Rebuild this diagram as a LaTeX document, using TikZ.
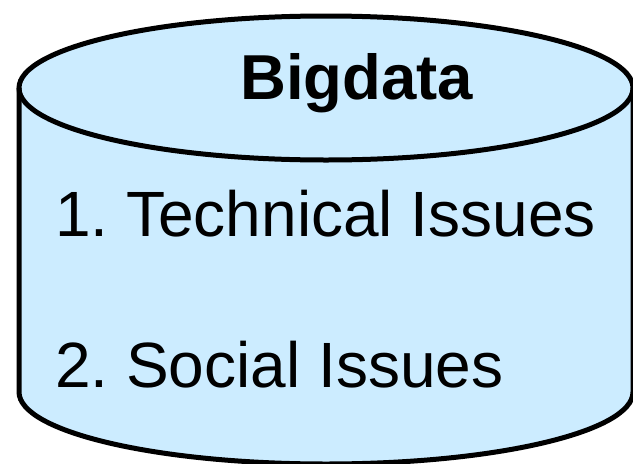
\documentclass[tikz,border=0pt]{standalone}
\usepackage{fontspec}
\setmainfont{Liberation Sans}
\definecolor{cylfill}{HTML}{CCECFF}
\begin{document}
\frenchspacing
\begin{tikzpicture}[x=1pt,y=-1pt,
  cylline/.style={draw=black,line width=5pt},
  bigtext/.style={inner sep=0pt,anchor=base west,font=\fontsize{64}{70}\selectfont}]
\useasboundingbox (0,0) rectangle (633,464);
\begin{scope}
\clip (0,0) rectangle (633,464);
% body
\fill[cylfill] (19,88) -- (19,392) arc[start angle=180,end angle=0,x radius=307,y radius=72] -- (633,88) -- cycle;
\fill[cylfill] (326,88) ellipse[x radius=307,y radius=72];
\draw[cylline] (19,88) -- (19,392) arc[start angle=180,end angle=0,x radius=307,y radius=72] -- (633,88);
\draw[cylline] (326,88) ellipse[x radius=307,y radius=72];
\end{scope}
\node[bigtext,font=\fontsize{63.5}{70}\selectfont\bfseries] (title) at (240,99) {Bigdata};
\node[bigtext] (item1) at (55,236) {1. Technical Issues};
\node[bigtext] (item2) at (55,387) {2. Social Issues};
\end{tikzpicture}
\end{document}
